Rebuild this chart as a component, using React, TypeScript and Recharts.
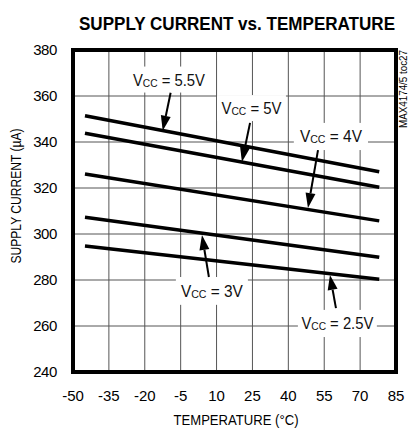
import React from 'react';
import { LineChart, Line, XAxis, YAxis, CartesianGrid, ReferenceArea, ReferenceLine } from 'recharts';

// ---- data ----
const temps = [-45, 78];
const vcc55 = [351.4, 327.1];
const vcc5 = [343.8, 320.3];
const vcc4 = [326.1, 305.7];
const vcc3 = [307.3, 289.9];
const vcc25 = [294.8, 280.3];

const xTicks = [-50, -35, -20, -5, 10, 25, 40, 55, 70, 85];
const yTicks = [240, 260, 280, 300, 320, 340, 360, 380];
const xDomain = [-50, 85];
const yDomain = [240, 380];

const seriesKeys = ['v55', 'v5', 'v4', 'v3', 'v25'];
const data = temps.map((t, i) => ({
  t,
  v55: vcc55[i],
  v5: vcc5[i],
  v4: vcc4[i],
  v3: vcc3[i],
  v25: vcc25[i],
}));

// annotation labels: text, box in data units, arrow tail/head in data units
const labelTexts = ['5.5V', '5V', '4V', '3V', '2.5V'];
const labelBoxesX = [[-27.0, 7.2], [10.2, 39.0], [42.3, 73.3], [-7.0, 23.1], [44.0, 77.0]];
const labelBoxesY = [[372.8, 361.5], [360.4, 349.1], [348.3, 336.5], [281.3, 269.2], [267.0, 255.2]];
const labelWidths = [72, 60, 62, 62, 72];
const arrowTails = [[-9.2, 361.4], [24.0, 348.3], [52.4, 336.5], [6.8, 281.3], [59.9, 267.8]];
const arrowHeads = [[-12.5, 344.9], [20.6, 331.3], [48.2, 311.3], [3.9, 299.6], [57.4, 282.2]];

const FONT = 'Liberation Sans, Arial, Helvetica, sans-serif';
const CHART_W = 411;
const CHART_H = 433;
const MARGIN = { top: 50, right: 15, bottom: 31, left: 13 };
const Y_AXIS_W = 60;
const X_AXIS_H = 30;
const PLOT_X = MARGIN.left + Y_AXIS_W;
const PLOT_Y = MARGIN.top;
const PLOT_W = CHART_W - MARGIN.left - Y_AXIS_W - MARGIN.right;
const PLOT_H = CHART_H - MARGIN.top - MARGIN.bottom - X_AXIS_H;
const FRAME_W = 4;

const ArrowShape = (props: any) => {
  const { x1, y1, x2, y2 } = props;
  if ([x1, y1, x2, y2].some((v) => typeof v !== 'number' || isNaN(v))) return null;
  const dx = x2 - x1;
  const dy = y2 - y1;
  const len = Math.sqrt(dx * dx + dy * dy) || 1;
  const ux = dx / len;
  const uy = dy / len;
  const headLen = 15;
  const headW = 5;
  const bx = x2 - ux * headLen;
  const by = y2 - uy * headLen;
  const px = -uy;
  const py = ux;
  return (
    <g>
      <line x1={x1} y1={y1} x2={bx} y2={by} stroke="#000" strokeWidth={2} />
      <polygon
        points={`${x2},${y2} ${bx + px * headW},${by + py * headW} ${bx - px * headW},${by - py * headW}`}
        fill="#000"
      />
    </g>
  );
};

const WhiteBox = (p: any) => {
  if ([p.x, p.y, p.width, p.height].some((v) => typeof v !== 'number' || isNaN(v))) return null;
  return <rect x={p.x} y={p.y} width={p.width} height={p.height} fill="#fff" stroke="none" />;
};

const makeLabel = (txt: string, width: number) => (props: any) => {
  const vb = props.viewBox || {};
  const cx = vb.x + vb.width / 2;
  const cy = vb.y + vb.height / 2;
  return (
    <text
      x={cx}
      y={cy + 6}
      textAnchor="middle"
      fontFamily={FONT}
      fontSize={16}
      fill="#111"
      textLength={width}
      lengthAdjust="spacingAndGlyphs"
    >
      <tspan>V</tspan>
      <tspan fontSize={11} dy={1}>CC</tspan>
      <tspan dy={-1}>{' = ' + txt}</tspan>
    </text>
  );
};

export default function App() {
  return (
    <div style={{ position: 'absolute', left: 0, top: 0, width: CHART_W, height: CHART_H, background: '#fff' }}>
      <LineChart width={CHART_W} height={CHART_H} data={data} margin={MARGIN}>
        <CartesianGrid stroke="#555" strokeWidth={1} />
        <XAxis
          dataKey="t"
          type="number"
          domain={xDomain}
          ticks={xTicks}
          interval={0}
          tickLine={false}
          axisLine={false}
          height={X_AXIS_H}
          tickMargin={12}
          tick={{ fontSize: 15, fill: '#000', fontFamily: FONT }}
        />
        <YAxis
          type="number"
          domain={yDomain}
          ticks={yTicks}
          interval={0}
          tickLine={false}
          axisLine={false}
          width={Y_AXIS_W}
          tickMargin={10}
          tick={{ fontSize: 15, fill: '#000', fontFamily: FONT, letterSpacing: -0.4 }}
        />
        {labelTexts.map((txt, i) => (
          <ReferenceArea
            key={'box' + i}
            x1={labelBoxesX[i][0]}
            x2={labelBoxesX[i][1]}
            y1={labelBoxesY[i][0]}
            y2={labelBoxesY[i][1]}
            fill="#fff"
            fillOpacity={1}
            shape={WhiteBox}
            label={makeLabel(txt, labelWidths[i])}
          />
        ))}
        {seriesKeys.map((k) => (
          <Line
            key={k}
            dataKey={k}
            type="linear"
            stroke="#000"
            strokeWidth={3.5}
            dot={false}
            activeDot={false}
            isAnimationActive={false}
          />
        ))}
        {arrowTails.map((tail, i) => (
          <ReferenceLine
            key={'arr' + i}
            segment={[
              { x: tail[0], y: tail[1] },
              { x: arrowHeads[i][0], y: arrowHeads[i][1] },
            ]}
            shape={ArrowShape}
          />
        ))}
        <text x={237} y={30} textAnchor="middle" fontFamily={FONT} fontWeight="bold" fontSize={18} fill="#000" textLength={316} lengthAdjust="spacingAndGlyphs">
          SUPPLY CURRENT vs.  TEMPERATURE
        </text>
        <text x={236} y={425} textAnchor="middle" fontFamily={FONT} fontSize={15} fill="#000" textLength={125} lengthAdjust="spacingAndGlyphs">
          TEMPERATURE (°C)
        </text>
        <text x={21} y={196} textAnchor="middle" fontFamily={FONT} fontSize={15} fill="#000" transform="rotate(-90 21 196)" textLength={135} lengthAdjust="spacingAndGlyphs">
          SUPPLY CURRENT (µA)
        </text>
        <text x={407} y={89} textAnchor="middle" fontFamily={FONT} fontSize={10} fill="#000" transform="rotate(-90 407 89)" textLength={78} lengthAdjust="spacingAndGlyphs">
          MAX4174/5 toc27
        </text>
      </LineChart>
      <div
        style={{
          position: 'absolute',
          left: PLOT_X - FRAME_W / 2,
          top: PLOT_Y - FRAME_W / 2,
          width: PLOT_W + FRAME_W,
          height: PLOT_H + FRAME_W,
          boxSizing: 'border-box',
          border: `${FRAME_W}px solid #000`,
          pointerEvents: 'none',
        }}
      />
    </div>
  );
}
